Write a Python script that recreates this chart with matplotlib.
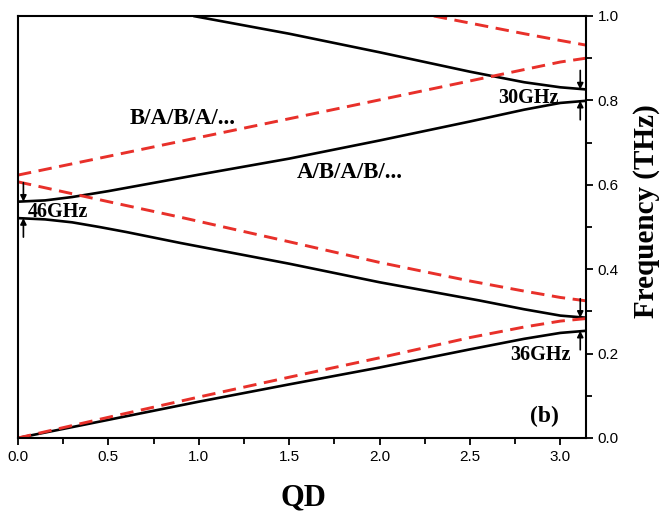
import numpy as np
import matplotlib
matplotlib.use('Agg')
from matplotlib import pyplot as plt

# band data: A/B/A/B/... (black) and B/A/B/A/... (red dashed)
ab_x1 = [0.0, 0.5, 1.0, 1.5, 2.0, 2.5, 2.8, 3.0, np.pi]
ab_f1 = [0.0, 0.043, 0.086, 0.127, 0.167, 0.210, 0.235, 0.249, 0.254]
ab_x2 = [0.0, 0.15, 0.3, 0.45, 0.6, 0.9, 1.5, 2.0, 2.55, 2.8, 3.0, np.pi]
ab_f2 = [0.521, 0.518, 0.511, 0.500, 0.488, 0.462, 0.413, 0.369, 0.326, 0.305, 0.290, 0.285]
ab_x3 = [0.0, 0.15, 0.3, 0.5, 1.0, 1.5, 2.0, 2.5, 2.8, 3.0, np.pi]
ab_f3 = [0.560, 0.563, 0.571, 0.585, 0.624, 0.662, 0.705, 0.750, 0.778, 0.794, 0.799]
ab_x4 = [0.97, 1.5, 2.0, 2.5, 2.8, 3.0, np.pi]
ab_f4 = [1.0, 0.958, 0.914, 0.868, 0.843, 0.831, 0.826]

ba_x1 = [0.0, 0.5, 1.0, 1.5, 2.0, 2.5, 2.8, 3.0, np.pi]
ba_f1 = [0.0, 0.049, 0.097, 0.144, 0.190, 0.238, 0.263, 0.277, 0.283]
ba_x2 = [0.0, 0.5, 0.9, 1.5, 2.0, 2.5, 2.8, 3.0, np.pi]
ba_f2 = [0.607, 0.560, 0.523, 0.465, 0.416, 0.372, 0.348, 0.333, 0.325]
ba_x3 = [0.0, 1.73, 3.0, np.pi]
ba_f3 = [0.623, 0.777, 0.891, 0.900]
ba_x4 = [2.30, 2.8, 3.0, np.pi]
ba_f4 = [1.0, 0.958, 0.942, 0.931]

# gaps: x position of the arrows, lower and upper band edge
gap_x = [0.03, 3.11, 3.11]
gap_lo = [0.521, 0.254, 0.799]
gap_hi = [0.560, 0.285, 0.826]

serif = ['Liberation Serif', 'DejaVu Serif']
plt.rcParams['font.family'] = ['Liberation Sans', 'DejaVu Sans']

fig = plt.figure(figsize=(6.61, 5.16), dpi=100)
ax = fig.add_axes([0.0272, 0.1512, 0.8593, 0.8178])

red = '#e8302a'
for x, f in [(ab_x1, ab_f1), (ab_x2, ab_f2), (ab_x3, ab_f3), (ab_x4, ab_f4)]:
    ax.plot(x, f, color='black', lw=1.9, solid_capstyle='butt', solid_joinstyle='round')
for x, f in [(ba_x1, ba_f1), (ba_x2, ba_f2), (ba_x3, ba_f3), (ba_x4, ba_f4)]:
    ax.plot(x, f, color=red, lw=2.1, ls=(0, (4.6, 2.6)))

# arrows marking the gaps
akw = dict(arrowstyle='-|>', color='black', lw=1.2, mutation_scale=9, shrinkA=0, shrinkB=0)
for gx, lo, hi in zip(gap_x, gap_lo, gap_hi):
    ax.annotate('', xy=(gx, hi), xytext=(gx, hi + 0.045), arrowprops=akw)
    ax.annotate('', xy=(gx, lo), xytext=(gx, lo - 0.045), arrowprops=akw)

tkw = dict(family=serif, fontweight='bold')
ax.text(0.62, 0.758, 'B/A/B/A/...', fontsize=16.5, va='center', ha='left', **tkw)
ax.text(1.54, 0.628, 'A/B/A/B/...', fontsize=16.5, va='center', ha='left', **tkw)
ax.text(0.055, 0.536, '46GHz', fontsize=14.5, va='center', ha='left', **tkw)
ax.text(2.655, 0.806, '30GHz', fontsize=14.5, va='center', ha='left', **tkw)
ax.text(2.72, 0.197, '36GHz', fontsize=14.5, va='center', ha='left', **tkw)
ax.text(2.83, 0.05, '(b)', fontsize=17, va='center', ha='left', **tkw)

ax.set_xlim(0, np.pi)
ax.set_ylim(0, 1.0)
ax.set_xticks(np.arange(0, 3.01, 0.5))
ax.set_xticks(np.arange(0.25, 3.1, 0.5), minor=True)
ax.set_yticks(np.arange(0, 1.01, 0.2))
ax.set_yticks(np.arange(0.1, 1.0, 0.2), minor=True)
ax.xaxis.set_major_formatter(matplotlib.ticker.FormatStrFormatter('%.1f'))
ax.yaxis.set_major_formatter(matplotlib.ticker.FormatStrFormatter('%.1f'))
ax.yaxis.tick_right()
ax.yaxis.set_label_position('right')
ax.tick_params(which='both', direction='out', width=1.3, labelsize=11)
ax.tick_params(which='major', length=5)
ax.tick_params(which='minor', length=4)
ax.tick_params(axis='x', which='both', top=False)
for s in ax.spines.values():
    s.set_linewidth(1.5)

ax.set_xlabel('QD', fontsize=22, va='center', ha='center', **tkw)
ax.xaxis.set_label_coords(0.503, -0.143)
ax.set_ylabel('Frequency (THz)', fontsize=21, va='center', ha='center', rotation=90, **tkw)
ax.yaxis.set_label_coords(1.107, 0.538)

fig.savefig('out.png', dpi=100)
